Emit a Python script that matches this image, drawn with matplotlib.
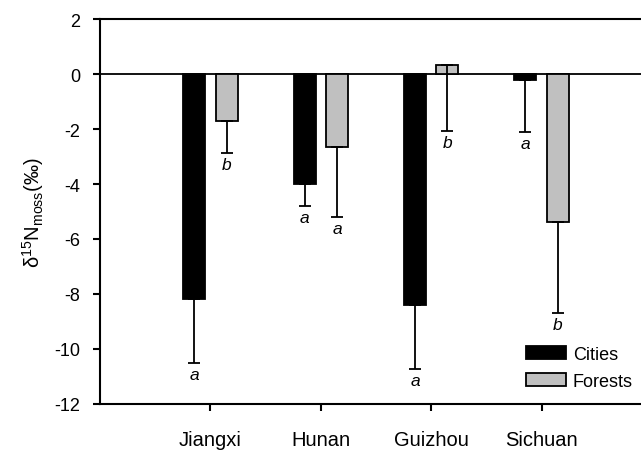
import numpy as np
import matplotlib
matplotlib.use('Agg')
import matplotlib.pyplot as plt
from matplotlib.patches import Patch

plt.rcParams['font.family'] = ['Liberation Sans', 'DejaVu Sans']
plt.rcParams['mathtext.fontset'] = 'custom'
plt.rcParams['mathtext.rm'] = 'Liberation Sans'
plt.rcParams['mathtext.it'] = 'Liberation Sans:italic'
plt.rcParams['axes.unicode_minus'] = False

# --- dane ---
provinces = ['Jiangxi', 'Hunan', 'Guizhou', 'Sichuan']
cities = [-8.2, -4.0, -8.4, -0.22]
cities_err = [2.3, 0.8, 2.33, 1.9]
forests = [-1.7, -2.67, 0.33, -5.37]
forests_err = [1.18, 2.52, 2.4, 3.33]
cities_letters = ['a', 'a', 'a', 'a']
forests_letters = ['b', 'a', 'b', 'b']

x = np.arange(len(provinces))
w = 0.2
off = 0.147

fig = plt.figure(figsize=(6.41, 4.56), dpi=100)
ax = fig.add_axes([0.156, 0.112, 0.844, 0.844])

ax.axhline(0, color='black', lw=1.3, zorder=1)

ax.bar(x - off, cities, w, color='black', edgecolor='black', lw=1.3, zorder=2)
ax.bar(x + off, forests, w, color='#c0c0c0', edgecolor='black', lw=1.3, zorder=2)

zeros = [0] * len(x)
ax.errorbar(x - off, cities, yerr=[cities_err, zeros], fmt='none', ecolor='black',
            elinewidth=1.3, capsize=4, capthick=1.3, zorder=3)
ax.errorbar(x + off, forests, yerr=[forests_err, zeros], fmt='none', ecolor='black',
            elinewidth=1.3, capsize=4, capthick=1.3, zorder=3)

# litery istotnosci pod slupkami bledu
for xi, v, e, t in zip(x - off, cities, cities_err, cities_letters):
    ax.annotate(t, (xi, v - e), xytext=(0, -3), textcoords='offset points',
                ha='center', va='top', fontsize=12.5, style='italic')
for xi, v, e, t in zip(x + off, forests, forests_err, forests_letters):
    ax.annotate(t, (xi, v - e), xytext=(0, -3), textcoords='offset points',
                ha='center', va='top', fontsize=12.5, style='italic')

ax.set_xlim(-1.0, 3.9)
ax.set_ylim(-12, 2)
ax.set_yticks(np.arange(-12, 3, 2))
ax.set_xticks(x)
ax.set_xticklabels(provinces)
ax.tick_params(axis='both', direction='out', width=1.5, length=5, labelsize=13)
ax.tick_params(axis='y', pad=9)
ax.tick_params(axis='x', pad=14, labelsize=14.5)

for s in ['left', 'bottom', 'top']:
    ax.spines[s].set_linewidth(1.5)
ax.spines['right'].set_visible(False)

ax.set_ylabel('δ$^{15}$N$_{\\mathrm{moss}}$(‰)', fontsize=14.5, labelpad=6)

handles = [Patch(facecolor='black', edgecolor='black', lw=1.3, label='Cities'),
           Patch(facecolor='#c0c0c0', edgecolor='black', lw=1.3, label='Forests')]
ax.legend(handles=handles, loc='lower right', bbox_to_anchor=(1.015, -0.005), frameon=False,
          fontsize=13, handlelength=2.2, handleheight=0.7, handletextpad=0.4,
          labelspacing=0.55)

plt.savefig('out.png', dpi=100)
